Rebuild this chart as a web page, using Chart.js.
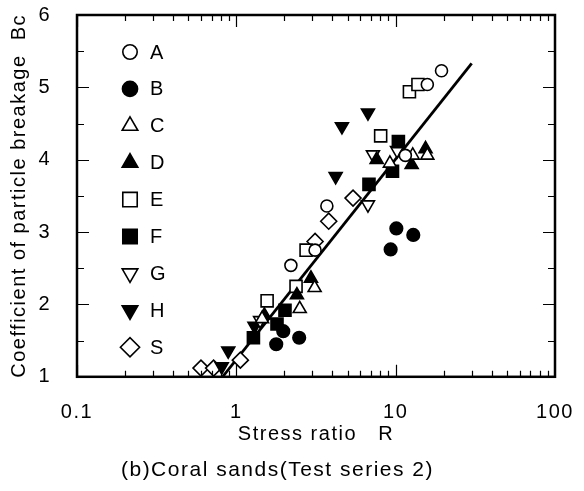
<!DOCTYPE html>
<html>
<head>
<meta charset="utf-8">
<script src="https://cdn.jsdelivr.net/npm/chart.js@4.4.0/dist/chart.umd.min.js"></script>
<style>
  html, body { margin: 0; padding: 0; background: #fff; }
</style>
</head>
<body>
<canvas id="chart" width="584" height="491"></canvas>
<script>
// values (stress ratio R, coefficient Bc)
let rA  = [19.4, 15.8, 3.7, 2.2, 3.12, 11.5];
let bcA = [5.23, 5.04, 3.36, 2.54, 2.75, 4.06];
let rB  = [10.1, 12.9, 9.3, 1.97, 2.48, 1.78];
let bcB = [3.05, 2.96, 2.76, 1.63, 1.54, 1.45];
let rC  = [12.8, 15.8, 9.2, 2.5, 3.1, 1.45];
let bcC = [4.06, 4.06, 3.95, 1.94, 2.23, 1.8];
let rD  = [12.6, 15.4, 7.6, 2.94, 2.4, 1.5];
let bcD = [3.93, 4.15, 4.0, 2.36, 2.13, 1.85];
let rE  = [12.2, 13.8, 8.05, 2.74, 2.37, 1.56];
let bcE = [4.94, 5.04, 4.33, 2.75, 2.25, 2.05];
let rF  = [10.4, 9.55, 6.8, 2.02, 1.8, 1.28];
let bcF = [4.25, 3.84, 3.66, 1.92, 1.73, 1.54];
let rG  = [6.7, 7.2, 10.2, 1.41];
let bcG = [3.38, 4.07, 4.13, 1.78];
let rH  = [6.7, 4.6, 4.2, 1.3, 0.89, 0.81];
let bcH = [4.65, 4.46, 3.77, 1.7, 1.36, 1.14];
let rS  = [5.4, 3.8, 3.12, 1.06, 0.6, 0.72];
let bcS = [3.47, 3.15, 2.87, 1.23, 1.12, 1.12];

// fitted line end points
let fitR  = [0.82, 30];
let fitBc = [1, 5.33];

let seriesLabels = ['A', 'B', 'C', 'D', 'E', 'F', 'G', 'H', 'S'];
let seriesR  = [rA, rB, rC, rD, rE, rF, rG, rH, rS];
let seriesBc = [bcA, bcB, bcC, bcD, bcE, bcF, bcG, bcH, bcS];

let xTickLabels = [0.1, 1, 10, 100];

// marker look: [pointStyle, filled, rotation, radius]
let markers = [
    ['circle',   false, 0,   6],
    ['circle',   true,  0,   6.3],
    ['triangle', false, 0,   7.5],
    ['triangle', true,  0,   7.5],
    ['rect',     false, 0,   8.5],
    ['rect',     true,  0,   8.5],
    ['triangle', false, 180, 7.5],
    ['triangle', true,  180, 7.5],
    ['rectRot',  false, 0,   8]
];

const FONT = "'Liberation Sans', Arial, Helvetica, sans-serif";
const SPACING = '1.5px';

let datasets = seriesLabels.map((name, i) => {
    let m = markers[i];
    return {
        type: 'scatter',
        label: name,
        data: seriesR[i].map((r, j) => ({ x: r, y: seriesBc[i][j] })),
        pointStyle: m[0],
        rotation: m[2],
        pointRadius: m[3],
        pointHoverRadius: m[3],
        backgroundColor: m[1] ? '#000' : '#fff',
        borderColor: '#000',
        borderWidth: 1.6
    };
});

datasets.push({
    type: 'line',
    label: 'fit',
    data: fitR.map((r, j) => ({ x: r, y: fitBc[j] })),
    borderColor: '#000',
    borderWidth: 2.8,
    pointRadius: 0,
    fill: false
});

// wide letter spacing like the scanned figure
const spacing = {
    id: 'spacing',
    beforeLayout(chart) { chart.ctx.letterSpacing = SPACING; },
    beforeDraw(chart) { chart.ctx.letterSpacing = SPACING; }
};

// frame + inward ticks on all four sides, legend inside the plot
const frameAndLegend = {
    id: 'frameAndLegend',
    afterDatasetsDraw(chart) {
        const ctx = chart.ctx;
        const a = chart.chartArea;
        const xs = chart.scales.x, ys = chart.scales.y;
        ctx.save();
        ctx.strokeStyle = '#000';
        ctx.lineWidth = 1.2;
        ctx.beginPath();
        [0.1, 1, 10].forEach(d => {
            for (let k = 1; k < 10; k++) {
                let px = Math.round(xs.getPixelForValue(d * k)) + 0.5;
                let len = k === 1 ? 12 : 6;
                ctx.moveTo(px, a.bottom); ctx.lineTo(px, a.bottom - len);
                ctx.moveTo(px, a.top); ctx.lineTo(px, a.top + len);
            }
        });
        for (let v = 1; v <= 6; v += 0.5) {
            let py = Math.round(ys.getPixelForValue(v)) + 0.5;
            let len = Number.isInteger(v) ? 12 : 7;
            ctx.moveTo(a.left, py); ctx.lineTo(a.left + len, py);
            ctx.moveTo(a.right, py); ctx.lineTo(a.right - len, py);
        }
        ctx.stroke();
        ctx.lineWidth = 2.5;
        ctx.strokeRect(a.left, a.top, a.right - a.left, a.bottom - a.top);

        // legend column
        let lx = a.left + 53, ly = a.top + 37, step = 36.9;
        seriesLabels.forEach((name, i) => {
            let m = markers[i];
            let y = ly + i * step;
            ctx.save();
            ctx.fillStyle = m[1] ? '#000' : '#fff';
            ctx.strokeStyle = '#000';
            ctx.lineWidth = 1.6;
            Chart.helpers.drawPoint(ctx, {
                pointStyle: m[0],
                rotation: m[2],
                radius: m[3] * 1.2,
                borderWidth: 1.6
            }, lx, y);
            ctx.restore();
            ctx.fillStyle = '#000';
            ctx.font = '20px ' + FONT;
            ctx.textBaseline = 'middle';
            ctx.textAlign = 'left';
            ctx.fillText(name, lx + 20, y + 1);
        });
        ctx.restore();
    }
};

new Chart(document.getElementById('chart'), {
    data: { datasets: datasets },
    options: {
        responsive: false,
        animation: false,
        layout: { padding: { top: 15, right: 29, bottom: 8, left: 0 } },
        plugins: {
            legend: { display: false },
            tooltip: { enabled: false },
            title: {
                display: true,
                position: 'bottom',
                text: '(b)Coral sands(Test series 2)',
                color: '#000',
                font: { family: FONT, size: 21, weight: 'normal' },
                padding: { top: 0, bottom: 0 }
            }
        },
        scales: {
            x: {
                type: 'logarithmic',
                min: 0.1,
                max: 100,
                grid: { display: false, drawTicks: false },
                border: { display: false },
                afterFit: s => {
                    s.height = 81;
                    s.paddingLeft = 0; s.paddingRight = 0;
                },
                afterBuildTicks: s => { s.ticks = xTickLabels.map(v => ({ value: v })); },
                ticks: {
                    autoSkip: false,
                    maxRotation: 0,
                    padding: 24,
                    color: '#000',
                    font: { family: FONT, size: 20 },
                    callback: v => String(v)
                },
                title: {
                    display: true,
                    text: 'Stress ratio   R',
                    color: '#000',
                    font: { family: FONT, size: 20 },
                    padding: { top: 4, bottom: 11 }
                }
            },
            y: {
                min: 1,
                max: 6,
                grid: { display: false, drawTicks: false },
                border: { display: false },
                afterFit: s => {
                    s.width = 77;
                    s.paddingTop = 0; s.paddingBottom = 0;
                },
                ticks: {
                    stepSize: 1,
                    padding: 26,
                    color: '#000',
                    font: { family: FONT, size: 20 }
                },
                title: {
                    display: true,
                    text: 'Coefficient of particle breakage  Bc',
                    color: '#000',
                    font: { family: FONT, size: 20 },
                    padding: { top: 7, bottom: 0 }
                }
            }
        }
    },
    plugins: [spacing, frameAndLegend]
});
</script>
</body>
</html>
